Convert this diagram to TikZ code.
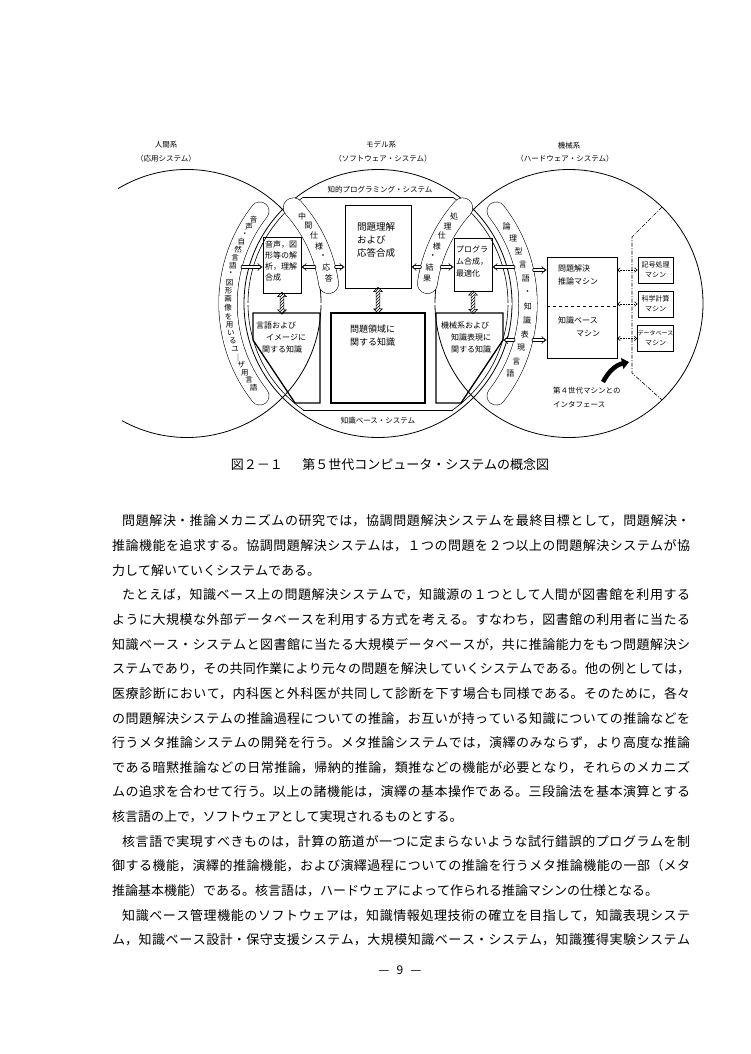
\documentclass[tikz,border=0pt]{standalone}
\usepackage{fontspec}
\setmainfont{Noto Sans CJK JP}
\usetikzlibrary{arrows.meta,shapes.arrows,patterns,calc}
\XeTeXlinebreaklocale "ja"
\XeTeXlinebreakskip=0pt plus 4pt minus 0.4pt
\newcommand\bodyfont{\fontsize{13}{15}\selectfont}
\newcommand\fullline[1]{\parbox{578pt}{\bodyfont\parindent=0pt\parfillskip=0pt\relax #1}}
\newcommand\shortline[1]{\parbox{578pt}{\bodyfont\parindent=0pt\relax #1}}
\newcommand\pillarc[5]{%
  \draw[line width=#5pt, line cap=round] (#1) ++(#2:#4) arc[start angle=#2, end angle=#3, radius=#4];
  \draw[white, line width=#5pt-1.1pt, line cap=round] (#1) ++(#2:#4) arc[start angle=#2, end angle=#3, radius=#4];}
\begin{document}
\begin{tikzpicture}[x=1pt,y=-1pt,
  circ/.style={line width=0.8pt},
  ring/.style={line width=0.6pt},
  lab/.style={inner sep=0pt, font=\fontsize{7.5}{9}\selectfont},
  thinbox/.style={draw, line width=0.6pt, inner sep=0pt},
  boldbox/.style={draw, line width=1.3pt, inner sep=0pt},
  boldline/.style={line width=1.3pt, line join=miter},
  smallbox/.style={draw, line width=0.9pt, inner sep=0pt, minimum width=35pt, minimum height=26pt, align=center, font=\fontsize{7}{10}\selectfont},
  txt/.style={inner sep=0pt, align=left, anchor=north west},
  pch/.style={inner sep=0pt, font=\fontsize{7.5}{8}\selectfont},
  pchb/.style={inner sep=0pt, font=\fontsize{8}{9}\selectfont},
  harr/.style={double, double distance=2.2pt, line width=0.5pt, line cap=round, -{Implies}},
  hatch/.style={double arrow, draw, line width=0.5pt, pattern=north east lines, rotate=90, double arrow head extend=2.5pt, double arrow head indent=0pt, inner sep=1.6pt, minimum height=#1},
  darr/.style={densely dotted, line width=0.6pt, {Straight Barb[length=2.5pt,width=4.5pt]}-{Straight Barb[length=2.5pt,width=4.5pt]}},
  dashdot/.style={line width=0.6pt, dash pattern=on 4pt off 1.5pt on 1pt off 1.5pt},
]
\fill[white] (0,0) rectangle (750,1054);
\useasboundingbox (0,0) rectangle (750,1054);

\coordinate (Lc) at (187,303.5);
\coordinate (Mc) at (378,303.5);
\coordinate (Rc) at (569,303.5);

% top labels
\node[lab] (hl1) at (166,145) {人間系};
\node[lab] (hl2) at (166,159) {（応用システム）};
\node[lab] (ml1) at (381,145) {モデル系};
\node[lab] (ml2) at (383,159) {（ソフトウェア・システム）};
\node[lab] (kl1) at (569,146) {機械系};
\node[lab] (kl2) at (565,159) {（ハードウェア・システム）};

% circles
\draw[circ] (Lc) ++(-121:134) arc[start angle=-121, end angle=119, radius=134];
\draw[circ] (Mc) circle[radius=134];
\draw[circ] (Rc) circle[radius=134];

% inner ring and chords
\coordinate (ctl) at ($(Mc)+(-125:130)$);
\coordinate (ctr) at ($(Mc)+(-55:130)$);
\coordinate (cbl) at ($(Mc)+(125:130)$);
\coordinate (cbr) at ($(Mc)+(55:130)$);
\draw[ring] (ctl) arc[start angle=-125, end angle=-235, radius=130];
\draw[ring] (ctr) arc[start angle=-55, end angle=55, radius=130];
\draw[circ] (ctl) -- (ctr);
\draw[circ] (cbl) -- (cbr);
\node[lab] (kps) at (380,189.5) {知的プログラミング・システム};
\node[lab] (kbs) at (378,421) {知識ベース・システム};

% divider
\coordinate (dvl) at (244.5,304);
\coordinate (dvr) at (511.5,304);
\draw[double, double distance=1.2pt, line width=0.45pt] (dvl) -- (dvr);

% pills
\pillarc{Mc}{-142}{-218}{150}{19}
\pillarc{Mc}{-38}{38}{150}{19}
\pillarc{Lc}{-42}{-8}{143}{20.5}
\pillarc{Rc}{-138}{-172}{143}{20.5}

\foreach \c [count=\i from 0] in {音,声,・,自,然,言,語,・,図,形,画,像,を,用,い,る,ユ,｜,ザ,用,言,語}
  \node[pch] (po\i) at ($(Mc)+({-146-\i*68/21}:150)$) {\c};
\foreach \c [count=\i from 0] in {論,理,型,言,語,・,知,識,表,現,言,語}
  \node[pchb] (pr\i) at ($(Mc)+({-31+\i*59/11}:150)$) {\c};
\foreach \c [count=\i from 0] in {中,間,仕,様,・,応,答}
  \node[pchb] (pl\i) at ($(Lc)+({-37+\i*27/6}:144)$) {\c};
\foreach \c [count=\i from 0] in {処,理,仕,様,・,結,果}
  \node[pchb] (pq\i) at ($(Rc)+({-143-\i*27/6}:144)$) {\c};

% upper boxes
\node[thinbox, minimum width=38pt, minimum height=56pt] (b1) at (282,265) {};
\node[thinbox, minimum width=66pt, minimum height=83pt] (b2) at (378,246.5) {};
\node[thinbox, minimum width=38pt, minimum height=53pt] (b3) at (473,264.5) {};
\node[txt, font=\fontsize{8}{11}\selectfont] (t1) at (265,241) {音声，図\\形等の解\\析，理解\\合成};
\node[txt, font=\fontsize{9.5}{13}\selectfont] (t2) at (357,222) {問題理解\\および\\応答合成};
\node[txt, font=\fontsize{8}{12}\selectfont] (t3) at (456,246) {プログラ\\ム合成，\\最適化};

% lower boxes
\coordinate (b4a) at (253,313);
\coordinate (b4b) at (320,313);
\coordinate (b4c) at (320,403);
\coordinate (b4d) at (295,403);
\coordinate (b4e) at (253,340);
\draw[boldline] (b4a) -- (b4b) -- (b4c) -- (b4d) -- (b4e) -- cycle;
\node[boldbox, minimum width=94pt, minimum height=90pt] (b5) at (378,358) {};
\coordinate (b6a) at (436,313);
\coordinate (b6b) at (503,313);
\coordinate (b6c) at (503,340);
\coordinate (b6d) at (461,403);
\coordinate (b6e) at (436,403);
\draw[boldline] (b6a) -- (b6b) -- (b6c) -- (b6d) -- (b6e) -- cycle;
\node[txt, font=\fontsize{8}{12}\selectfont] (t4) at (256,322) {言語および\\\hspace*{10pt}イメージに\\\hspace*{6pt}関する知識};
\node[txt, font=\fontsize{9}{13}\selectfont] (t5) at (350,325) {問題領域に\\関する知識};
\node[txt, font=\fontsize{8}{12}\selectfont] (t6) at (441,322) {機械系および\\\hspace*{10pt}知識表現に\\\hspace*{10pt}関する知識};

% hatched vertical arrows
\node[hatch=22pt] (v1) at ($(b1.south)!0.5!(b1.south |- b4a)$) {};
\node[hatch=26pt] (v2) at ($(b2.south)!0.5!(b5.north)$) {};
\node[hatch=23pt] (v3) at ($(b3.south)!0.5!(b3.south |- b6a)$) {};

% machine side
\node[thinbox, minimum width=70pt, minimum height=101pt] (mach) at (582,307.5) {};
\coordinate (md) at (0,306);
\draw[dashed, line width=0.5pt] (mach.west |- md) -- (mach.east |- md);
\node[txt, font=\fontsize{8}{13}\selectfont] (t7) at (558,265) {問題解決\\推論マシン};
\node[txt, font=\fontsize{8}{13}\selectfont] (t8) at (558,317) {知識ベース\\\hspace*{18pt}マシン};
\node[smallbox] (s1) at (655.5,270) {記号処理\\マシン};
\node[smallbox] (s2) at (655.5,304) {科学計算\\マシン};
\node[smallbox, font=\fontsize{6}{10}\selectfont] (s3) at (655.5,338.5) {データベース\\\fontsize{7}{10}\selectfont マシン};
\draw[darr] (mach.east |- s1) -- (s1.west);
\draw[darr] (mach.east |- s2) -- (s2.west);
\draw[darr] (mach.east |- s3) -- (s3.west);

\coordinate (dp1) at (662,207);
\coordinate (dp2) at (632,237);
\coordinate (dp3) at (632,373);
\coordinate (dp4) at (662,400);
\draw[dashdot] (dp1) -- (dp2) -- (dp3) -- (dp4);

\coordinate (ca1) at (603,382);
\coordinate (ca2) at (629,362);
\draw[line width=4.5pt, -{Triangle[length=7pt,width=11pt]}] (ca1) to[bend left=25] (ca2);
\node[txt, font=\fontsize{7.5}{14}\selectfont] (t9) at (553,387) {第４世代マシンとの\\インタフェース};

% hollow arrows
\coordinate (pa1) at (242.3,267);
\coordinate (pa2) at (314.6,267);
\coordinate (pa3) at (335.8,267);
\coordinate (pa4) at (420.2,267);
\coordinate (pa5) at (441.4,267);
\coordinate (pa6) at (513.7,267);
\coordinate (pa7) at (533.9,270);
\coordinate (pa8) at (513.7,340);
\coordinate (pa9) at (533.3,340);
\draw[harr] (pa1) -- (b1.west |- pa1);
\draw[harr] (pa2) -- (b1.east |- pa2);
\draw[harr] (pa3) -- (b2.west |- pa3);
\draw[harr] (pa4) -- (b2.east |- pa4);
\draw[harr] (pa5) -- (b3.west |- pa5);
\draw[harr] (pa6) -- (b3.east |- pa6);
\draw[harr] (pa7) -- (mach.west |- pa7);
\draw[harr] (pa8) -- (b6c);
\draw[harr] (pa9) -- (mach.west |- pa9);

% caption
\node[inner sep=0pt, font=\fontsize{13}{15}\selectfont] (cap) at (390,465) {図２－１\hspace{1.5em}第５世代コンピュータ・システムの概念図};

% body text
\node[anchor=west, inner sep=0pt] (l1) at (112,521) {\fullline{\hspace*{10pt}問題解決・推論メカニズムの研究では，協調問題解決システムを最終目標として，問題解決・}};
\node[anchor=west, inner sep=0pt] (l2) at (112,545.65) {\fullline{推論機能を追求する。協調問題解決システムは，１つの問題を２つ以上の問題解決システムが協}};
\node[anchor=west, inner sep=0pt] (l3) at (112,570.3) {\shortline{力して解いていくシステムである。}};
\node[anchor=west, inner sep=0pt] (l4) at (112,594.95) {\fullline{\hspace*{10pt}たとえば，知識ベース上の問題解決システムで，知識源の１つとして人間が図書館を利用する}};
\node[anchor=west, inner sep=0pt] (l5) at (112,619.6) {\fullline{ように大規模な外部データベースを利用する方式を考える。すなわち，図書館の利用者に当たる}};
\node[anchor=west, inner sep=0pt] (l6) at (112,644.25) {\fullline{知識ベース・システムと図書館に当たる大規模データベースが，共に推論能力をもつ問題解決シ}};
\node[anchor=west, inner sep=0pt] (l7) at (112,668.9) {\fullline{ステムであり，その共同作業により元々の問題を解決していくシステムである。他の例としては，}};
\node[anchor=west, inner sep=0pt] (l8) at (112,693.55) {\fullline{医療診断において，内科医と外科医が共同して診断を下す場合も同様である。そのために，各々}};
\node[anchor=west, inner sep=0pt] (l9) at (112,718.2) {\fullline{の問題解決システムの推論過程についての推論，お互いが持っている知識についての推論などを}};
\node[anchor=west, inner sep=0pt] (l10) at (112,742.85) {\fullline{行うメタ推論システムの開発を行う。メタ推論システムでは，演繹のみならず，より高度な推論}};
\node[anchor=west, inner sep=0pt] (l11) at (112,767.5) {\fullline{である暗黙推論などの日常推論，帰納的推論，類推などの機能が必要となり，それらのメカニズ}};
\node[anchor=west, inner sep=0pt] (l12) at (112,792.15) {\fullline{ムの追求を合わせて行う。以上の諸機能は，演繹の基本操作である。三段論法を基本演算とする}};
\node[anchor=west, inner sep=0pt] (l13) at (112,816.8) {\shortline{核言語の上で，ソフトウェアとして実現されるものとする。}};
\node[anchor=west, inner sep=0pt] (l14) at (112,841.45) {\fullline{\hspace*{10pt}核言語で実現すべきものは，計算の筋道が一つに定まらないような試行錯誤的プログラムを制}};
\node[anchor=west, inner sep=0pt] (l15) at (112,866.1) {\fullline{御する機能，演繹的推論機能，および演繹過程についての推論を行うメタ推論機能の一部（メタ}};
\node[anchor=west, inner sep=0pt] (l16) at (112,890.75) {\shortline{推論基本機能）である。核言語は，ハードウェアによって作られる推論マシンの仕様となる。}};
\node[anchor=west, inner sep=0pt] (l17) at (112,915.4) {\fullline{\hspace*{10pt}知識ベース管理機能のソフトウェアは，知識情報処理技術の確立を目指して，知識表現システ}};
\node[anchor=west, inner sep=0pt] (l18) at (112,940.05) {\fullline{ム，知識ベース設計・保守支援システム，大規模知識ベース・システム，知識獲得実験システム}};

\node[inner sep=0pt, font=\fontsize{12}{14}\selectfont] (pg) at (400,970) {—\hspace{0.6em}9\hspace{0.6em}—};
\end{tikzpicture}
\end{document}
